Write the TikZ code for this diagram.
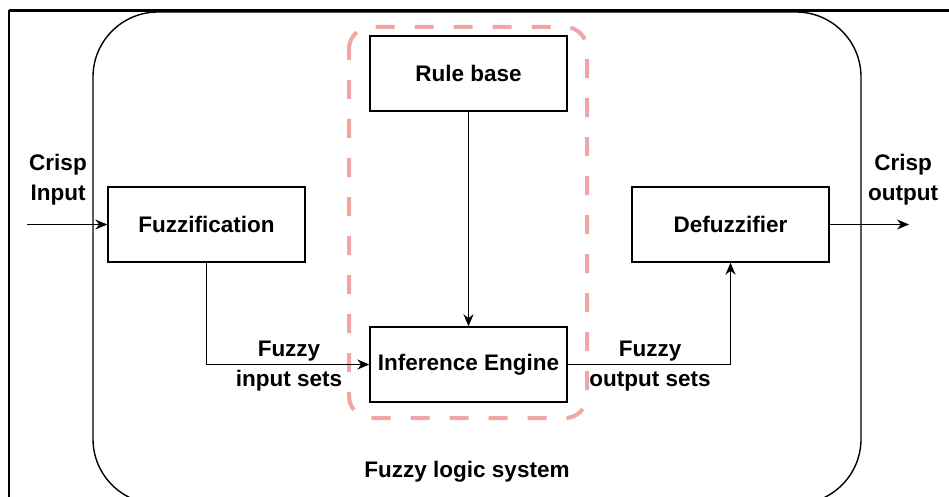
\documentclass[tikz,border=0pt]{standalone}
\usepackage{fontspec}
\setmainfont{Liberation Sans}
\usetikzlibrary{arrows.meta}
\definecolor{rulepink}{RGB}{242,165,165}
\tikzset{
  blockbox/.style={draw, line width=1.4pt, minimum width=197pt, minimum height=75pt, inner sep=0pt},
  flowline/.style={line width=1.4pt},
  tag/.style={align=center, inner sep=0pt},
}
\begin{document}
\begin{tikzpicture}[x=1pt, y=-1pt, >={Stealth[length=12pt,width=10pt]},
    font=\fontsize{22.5}{30}\selectfont\bfseries]
    \useasboundingbox (0,0) rectangle (949,497);

    % screenshot frame and system outline
    \begin{scope}
        \clip (0,0) rectangle (949,497);
        \draw[line width=3pt] (9,10.5) -- (949,10.5);
        \draw[line width=1.5pt] (9,10) -- (9,497);
        \draw[line width=1.4pt, rounded corners=65pt] (93,12) rectangle (861,504);
    \end{scope}

    % rule base + inference engine group
    \draw[rulepink, line width=4pt, dash pattern=on 19pt off 20pt, dash phase=8pt,
        rounded corners=22pt] (349,27) rectangle (587,418);

    \node[blockbox] (fuzz)   at (206.5,224.5) {Fuzzification};
    \node[blockbox] (rules)  at (468.5,73.5)  {Rule base};
    \node[blockbox] (infer)  at (468.5,364.5) {Inference Engine};
    \node[blockbox] (defuzz) at (730.5,224.5) {Defuzzifier};

    \coordinate (in)  at (27,224.5);
    \coordinate (out) at (909,224.5);

    \draw[flowline, ->] (in) -- (fuzz.west);
    \draw[flowline, ->] (defuzz.east) -- (out);
    \draw[flowline, ->] (rules.south) -- (infer.north);
    \draw[flowline, ->] (fuzz.south) |- (infer.west);
    \draw[flowline, ->] (infer.east) -| (defuzz.south);

    \node[tag] (crispin)  at (58,180)  {Crisp\\Input};
    \node[tag] (crispout) at (903,180) {Crisp\\output};
    \node[tag] (fzin)     at (289,366) {Fuzzy\\input sets};
    \node[tag] (fzout)    at (650,366) {Fuzzy\\output sets};
    \node[tag] (system)   at (467,472) {Fuzzy logic system};
\end{tikzpicture}
\end{document}
